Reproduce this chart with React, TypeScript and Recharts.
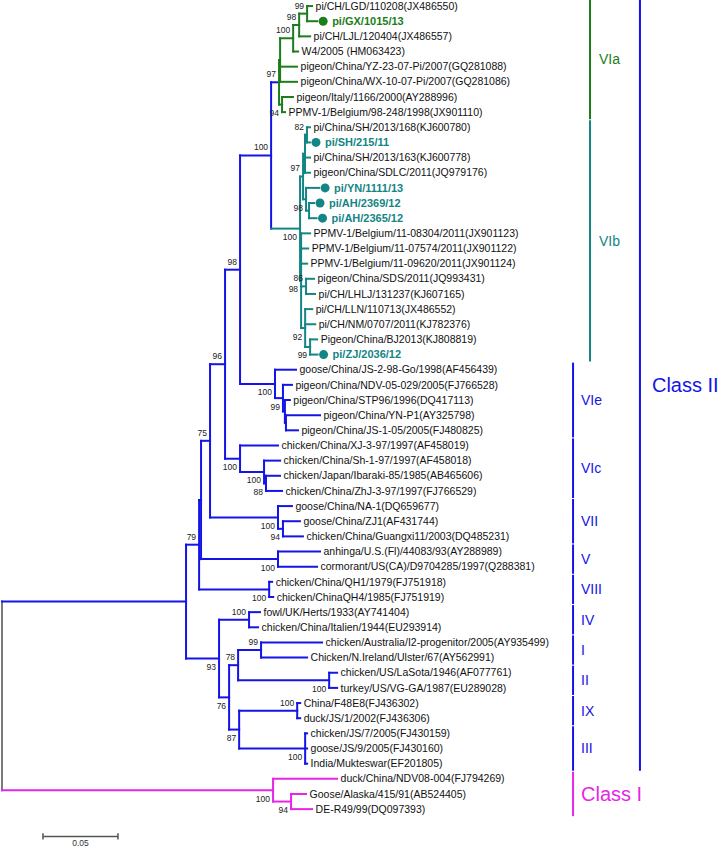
import React from 'react';
import { ScatterChart, Scatter, XAxis, YAxis, ReferenceLine } from 'recharts';

const GREEN = '#1b7d1b';
const TEAL = '#138585';
const BLUE = '#1414e6';
const MAGENTA = '#e626e6';
const GREY = '#7a7a7a';
const FONT = '"Liberation Sans", Arial, sans-serif';

// tip labels, top to bottom (index = row in the tree)
const leafNames = [
  'pi/CH/LGD/110208(JX486550)',
  'pi/GX/1015/13',
  'pi/CH/LJL/120404(JX486557)',
  'W4/2005 (HM063423)',
  'pigeon/China/YZ-23-07-Pi/2007(GQ281088)',
  'pigeon/China/WX-10-07-Pi/2007(GQ281086)',
  'pigeon/Italy/1166/2000(AY288996)',
  'PPMV-1/Belgium/98-248/1998(JX901110)',
  'pi/China/SH/2013/168(KJ600780)',
  'pi/SH/215/11',
  'pi/China/SH/2013/163(KJ600778)',
  'pigeon/China/SDLC/2011(JQ979176)',
  'pi/YN/1111/13',
  'pi/AH/2369/12',
  'pi/AH/2365/12',
  'PPMV-1/Belgium/11-08304/2011(JX901123)',
  'PPMV-1/Belgium/11-07574/2011(JX901122)',
  'PPMV-1/Belgium/11-09620/2011(JX901124)',
  'pigeon/China/SDS/2011(JQ993431)',
  'pi/CH/LHLJ/131237(KJ607165)',
  'pi/CH/LLN/110713(JX486552)',
  'pi/CH/NM/0707/2011(KJ782376)',
  'Pigeon/China/BJ2013(KJ808819)',
  'pi/ZJ/2036/12',
  'goose/China/JS-2-98-Go/1998(AF456439)',
  'pigeon/China/NDV-05-029/2005(FJ766528)',
  'pigeon/China/STP96/1996(DQ417113)',
  'pigeon/China/YN-P1(AY325798)',
  'pigeon/China/JS-1-05/2005(FJ480825)',
  'chicken/China/XJ-3-97/1997(AF458019)',
  'chicken/China/Sh-1-97/1997(AF458018)',
  'chicken/Japan/Ibaraki-85/1985(AB465606)',
  'chicken/China/ZhJ-3-97/1997(FJ766529)',
  'goose/China/NA-1(DQ659677)',
  'goose/China/ZJ1(AF431744)',
  'chicken/China/Guangxi11/2003(DQ485231)',
  'anhinga/U.S.(Fl)/44083/93(AY288989)',
  'cormorant/US(CA)/D9704285/1997(Q288381)',
  'chicken/China/QH1/1979(FJ751918)',
  'chicken/ChinaQH4/1985(FJ751919)',
  'fowl/UK/Herts/1933(AY741404)',
  'chicken/China/Italien/1944(EU293914)',
  'chicken/Australia/I2-progenitor/2005(AY935499)',
  'Chicken/N.Ireland/Ulster/67(AY562991)',
  'chicken/US/LaSota/1946(AF077761)',
  'turkey/US/VG-GA/1987(EU289028)',
  'China/F48E8(FJ436302)',
  'duck/JS/1/2002(FJ436306)',
  'chicken/JS/7/2005(FJ430159)',
  'goose/JS/9/2005(FJ430160)',
  'India/Mukteswar(EF201805)',
  'duck/China/NDV08-004(FJ794269)',
  'Goose/Alaska/415/91(AB524405)',
  'DE-R49/99(DQ097393)',
];

// strains from this study (bold, with a dot)
const highlighted = [1, 9, 12, 13, 14, 23];

// clades in newick, tips are row indices, internal labels are bootstrap values
const nwVIa = '(((((0:0.0033,1:0.0067)99:0.0053,2:0.0073)98:0.0040,3:0.0033)100:0.0087,4:0.0113,5:0.0113):0.0007,(6:0.0073,7:0.0020)94:0.0020)97';
const nwVIb = '((((8:0.0020,9:0.0020)82:0.0013,10:0.0033,11:0.0033):0.0013,(12:0.0087,(13:0.0033,14:0.0050):0.0020)98:0.0020)97:0.0020,(15:0.0060,16:0.0047,17:0.0040,(18:0.0053,19:0.0060)86:0.0033,(20:0.0047,21:0.0067,(22:0.0047,23:0.0050)99:0.0033)92:0.0027)98:0.0007)100';
const nwVIe = '(24:0.0140,(25:0.0060,(26:0.0033,(27:0.0227,28:0.0080):0.0007):0.0013)99:0.0053)100';
const nwVIc = '(29:0.0253,(30:0.0107,(31:0.0093,32:0.0107)88:0.0013)100:0.0160)100';
const nwVII = '(33:0.0093,(34:0.0113,35:0.0133)94:0.0033)100';
const nwV = '(36:0.0280,37:0.0260)100';
const nwVIII = '(38:0.0020,39:0.0027)100';
const nwIV = '(40:0.0073,41:0.0060)100';
const nwI = '(42:0.0407,43:0.0307)99';
const nwII = '(44:0.0053,45:0.0053)100';
const nwIX = '(46:0.0020,47:0.0020)100';
const nwIII = '(48:0.0013,49:0.0013,50:0.0013)100';
const nwClassI = '(51:0.0427,(52:0.0100,53:0.0140)94:0.0120)100';

const nwGenoVI = `((((${nwVIa}:0.0053,${nwVIb}:0.0193)100:0.0207,${nwVIe}:0.0233)98:0.0100,${nwVIc}:0.0100)96:0.0100,${nwVII}:0.0453)75`;
const nwUpper = `((${nwGenoVI}:0.0060,${nwV}:0.0513):0.0013,${nwVIII}:0.0467)79`;
const nwLower = `(${nwIV}:0.0200,((${nwI}:0.0153,${nwII}:0.0607)78:0.0060,(${nwIX}:0.0387,${nwIII}:0.0440)87:0.0067)76:0.0067)93`;
const newick = `((${nwUpper}:0.0087,${nwLower}:0.0220):0.1227,${nwClassI}:0.1807);`;

// genotype bars on the right: [name, first row, last row]
const subClades: [string, number, number][] = [
  ['VIe', 24, 28], ['VIc', 29, 32], ['VII', 33, 35], ['V', 36, 37], ['VIII', 38, 39],
  ['IV', 40, 41], ['I', 42, 43], ['II', 44, 45], ['IX', 46, 47], ['III', 48, 50],
];
const pigeonClades: [string, number, number][] = [['VIa', 0, 7], ['VIb', 8, 23]];
const classes: [string, number, number][] = [['Class II', 0, 50], ['Class I', 51, 53]];

const scaleLength = 0.05;

type TNode = {
  name: string; len: number; children: TNode[];
  depth: number; y: number; lo: number; hi: number; last: boolean; parent?: TNode;
};

function parseNewick(s: string): TNode {
  let i = 0;
  const read = (): TNode => {
    const n: TNode = { name: '', len: 0, children: [], depth: 0, y: 0, lo: 0, hi: 0, last: false };
    if (s[i] === '(') {
      i++;
      n.children.push(read());
      while (s[i] === ',') { i++; n.children.push(read()); }
      i++;
    }
    while (i < s.length && !':,);'.includes(s[i])) n.name += s[i++];
    if (s[i] === ':') {
      i++;
      let num = '';
      while (i < s.length && !',);'.includes(s[i])) num += s[i++];
      n.len = parseFloat(num);
    }
    n.children.forEach((c) => (c.parent = n));
    return n;
  };
  return read();
}

function place(n: TNode, parentDepth: number, last: boolean) {
  n.depth = parentDepth + n.len;
  n.last = last;
  if (!n.children.length) {
    n.y = n.lo = n.hi = parseInt(n.name, 10);
    return;
  }
  n.children.forEach((c, k) => place(c, n.depth, k === n.children.length - 1));
  const a = n.children[0];
  const b = n.children[n.children.length - 1];
  n.y = (a.y + b.y) / 2;
  n.lo = a.lo;
  n.hi = b.hi;
}

const colourOf = (n: TNode) => {
  if (!n.parent) return GREY;
  if (n.hi <= 7) return GREEN;
  if (n.lo >= 8 && n.hi <= 23) return TEAL;
  if (n.lo >= 51) return MAGENTA;
  return BLUE;
};
const stemColourOf = (n: TNode) => (n.lo === 0 && n.hi === 7 ? BLUE : colourOf(n));

const root = parseNewick(newick);
place(root, 0, false);

type Seg = { x1: number; y1: number; x2: number; y2: number; c: string };
const segs: Seg[] = [];
const tips: any[] = [];
const supports: any[] = [];
const walk = (n: TNode) => {
  if (n.parent) segs.push({ x1: n.parent.depth, y1: n.y, x2: n.depth, y2: n.y, c: stemColourOf(n) });
  if (n.children.length) {
    const a = n.children[0];
    const b = n.children[n.children.length - 1];
    segs.push({ x1: n.depth, y1: a.y, x2: n.depth, y2: b.y, c: colourOf(n) });
    if (n.name) supports.push({ x: n.depth, y: n.y, label: n.name, below: n.last });
    n.children.forEach(walk);
  } else {
    const hl = highlighted.includes(n.y);
    tips.push({ x: n.depth, y: n.y, name: leafNames[n.y], hl, c: colourOf(n) });
  }
};
walk(root);

// annotation columns (tree units)
const subBarX = 0.3807;
const pigeonBarX = 0.392;
const classBarX = 0.4253;
const scaleX = 0.0273;
const scaleY = 54.8;

const bars: Seg[] = [
  ...subClades.map(([, a, b]) => ({ x1: subBarX, y1: a - 0.4, x2: subBarX, y2: b + 0.4, c: BLUE })),
  ...pigeonClades.map(([n, a, b]) => ({ x1: pigeonBarX, y1: a - 0.4, x2: pigeonBarX, y2: b + 0.4, c: n === 'VIa' ? GREEN : TEAL })),
  { x1: classBarX, y1: classes[0][1] - 0.4, x2: classBarX, y2: classes[0][2] + 0.4, c: BLUE },
  { x1: subBarX, y1: classes[1][1] - 0.4, x2: subBarX, y2: classes[1][2] + 0.4, c: MAGENTA },
];

const cladeText = [
  ...subClades.map(([n, a, b]) => ({ x: subBarX + 0.0053, y: (a + b) / 2, text: n, c: BLUE, size: 14 })),
  ...pigeonClades.map(([n, a, b]) => ({ x: pigeonBarX + 0.006, y: (a + b) / 2, text: n, c: n === 'VIa' ? GREEN : TEAL, size: 14 })),
  { x: classBarX + 0.008, y: (classes[0][1] + classes[0][2]) / 2, text: classes[0][0], c: BLUE, size: 20 },
  { x: subBarX + 0.0053, y: (classes[1][1] + classes[1][2]) / 2, text: classes[1][0], c: MAGENTA, size: 20 },
  { x: scaleX + scaleLength / 2, y: scaleY + 0.45, text: String(scaleLength), c: '#333', size: 8.5, mid: true },
];

const scaleSegs: Seg[] = [
  { x1: scaleX, y1: scaleY, x2: scaleX + scaleLength, y2: scaleY, c: '#555' },
  { x1: scaleX, y1: scaleY - 0.2, x2: scaleX, y2: scaleY + 0.2, c: '#555' },
  { x1: scaleX + scaleLength, y1: scaleY - 0.2, x2: scaleX + scaleLength, y2: scaleY + 0.2, c: '#555' },
];

const TipLabel = (p: any) => {
  const { cx, cy, payload } = p;
  if (payload.hl) {
    return (
      <g>
        <circle cx={cx + 6} cy={cy} r={4.5} fill={payload.c} />
        <text x={cx + 15} y={cy} dy="0.35em" fontSize={11} fontWeight="bold" fill={payload.c} fontFamily={FONT}>
          {payload.name}
        </text>
      </g>
    );
  }
  return (
    <text x={cx + 3.5} y={cy} dy="0.35em" fontSize={10.5} fill="#111" fontFamily={FONT}>
      {payload.name}
    </text>
  );
};

const SupportLabel = (p: any) => {
  const { cx, cy, payload } = p;
  return (
    <text x={cx - 3} y={payload.below ? cy + 8.5 : cy - 8} dy="0.35em" textAnchor="end" fontSize={8.5} fill="#222" fontFamily={FONT}>
      {payload.label}
    </text>
  );
};

const CladeLabel = (p: any) => {
  const { cx, cy, payload } = p;
  return (
    <text x={cx} y={cy} dy="0.35em" textAnchor={payload.mid ? 'middle' : 'start'} fontSize={payload.size} fill={payload.c} fontFamily={FONT}>
      {payload.text}
    </text>
  );
};

export default function App() {
  const lines = [...segs, ...bars];
  return (
    <div style={{ position: 'absolute', left: 0, top: 0, background: '#fff' }}>
      <ScatterChart width={722} height={849} margin={{ top: 0, right: 0, bottom: 2, left: 2 }}>
        <XAxis type="number" dataKey="x" domain={[0, 0.48]} hide />
        <YAxis type="number" dataKey="y" domain={[-0.4, 55.5]} reversed hide />
        {lines.map((s, k) => (
          <ReferenceLine
            key={`l${k}`}
            segment={[{ x: s.x1, y: s.y1 }, { x: s.x2, y: s.y2 }]}
            stroke={s.c}
            strokeWidth={2}
            strokeLinecap="square"
            ifOverflow="visible"
          />
        ))}
        {scaleSegs.map((s, k) => (
          <ReferenceLine
            key={`s${k}`}
            segment={[{ x: s.x1, y: s.y1 }, { x: s.x2, y: s.y2 }]}
            stroke={s.c}
            strokeWidth={1.5}
            ifOverflow="visible"
          />
        ))}
        <Scatter data={tips} shape={TipLabel} isAnimationActive={false} />
        <Scatter data={supports} shape={SupportLabel} isAnimationActive={false} />
        <Scatter data={cladeText} shape={CladeLabel} isAnimationActive={false} />
      </ScatterChart>
    </div>
  );
}
